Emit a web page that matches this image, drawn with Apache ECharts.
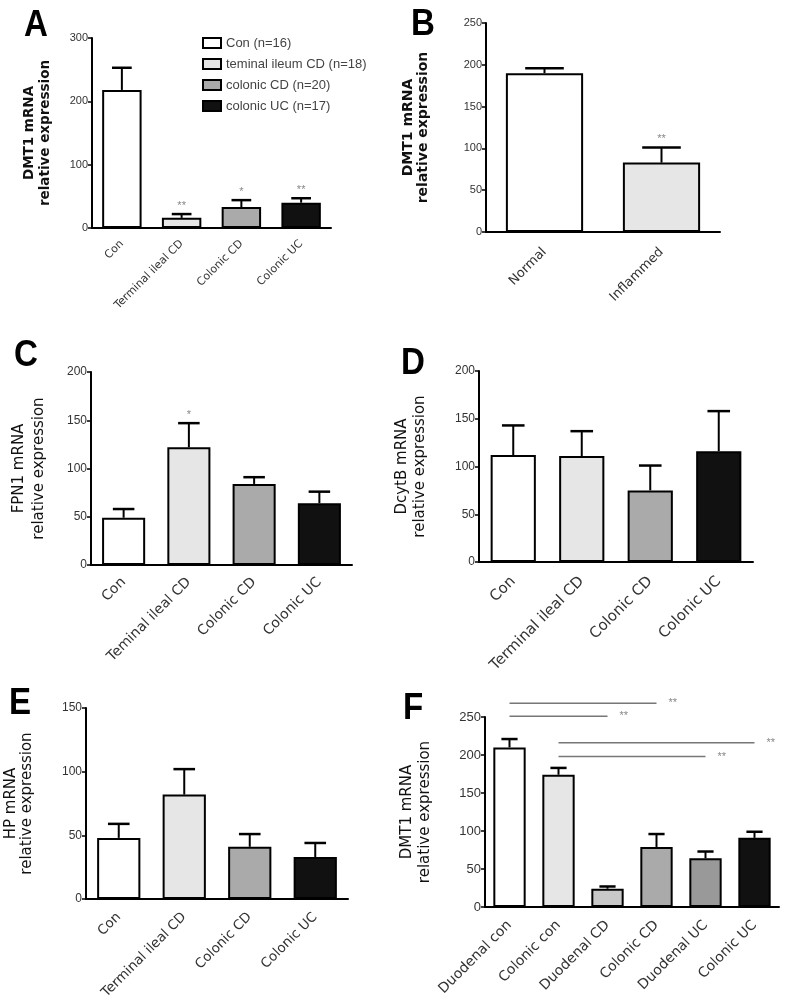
<!DOCTYPE html>
<html>
<head>
<meta charset="utf-8">
<script src="https://cdn.jsdelivr.net/npm/echarts@6/dist/echarts.min.js"></script>
<style>
html,body{margin:0;padding:0;background:#fff;}
#chart{width:787px;height:1000px;}
</style>
</head>
<body>
<div id="chart"></div>
<script>
// ---------- DATA ----------
const catsA = ['Con', 'Terminal ileal CD', 'Colonic CD', 'Colonic UC'];
const meanA = [218, 16, 33, 40];
const errA = [35, 6, 11, 7];
const starsA = ['', '**', '*', '**'];
const legendA = ['Con (n=16)', 'teminal ileum CD (n=18)', 'colonic CD (n=20)', 'colonic UC (n=17)'];

const catsB = ['Normal', 'Inflammed'];
const meanB = [190, 83];
const errB = [6, 18];
const starsB = ['', '**'];

const catsC = ['Con', 'Teminal ileal CD', 'Colonic CD', 'Colonic UC'];
const meanC = [49, 122, 84, 64];
const errC = [9, 25, 7, 12];
const starsC = ['', '*', '', ''];

const catsD = ['Con', 'Terminal ileal CD', 'Colonic CD', 'Colonic UC'];
const meanD = [112, 111, 75, 116];
const errD = [31, 26, 26, 42];
const starsD = ['', '', '', ''];

const catsE = ['Con', 'Terminal ileal CD', 'Colonic CD', 'Colonic UC'];
const meanE = [48, 82, 41, 33];
const errE = [11, 20, 10, 11];
const starsE = ['', '', '', ''];

const catsF = ['Duodenal con', 'Colonic con', 'Duodenal CD', 'Colonic CD', 'Duodenal UC', 'Colonic UC'];
const meanF = [210, 174, 24, 79, 64, 91];
const errF = [11, 9, 3, 17, 9, 8];
const starsF = ['', '', '', '', '', ''];
// significance brackets in F: [from category, to category, height]
const sigFrom = [0, 0, 1, 1];
const sigTo = [3, 2, 5, 4];
const sigY = [268, 251, 216, 198];
const sigLabel = ['**', '**', '**', '**'];

const panelLetters = ['A', 'B', 'C', 'D', 'E', 'F'];

// ---------- STYLE ----------
const col4 = ['#ffffff', '#e6e6e6', '#aaaaaa', '#111111'];
const col2 = ['#ffffff', '#e6e6e6'];
const col6 = ['#ffffff', '#e6e6e6', '#c8c8c8', '#aaaaaa', '#999999', '#111111'];
const FF = "'Liberation Sans', Arial, sans-serif";
const FD = "'DejaVu Sans', sans-serif";

const grids = [], xAxes = [], yAxes = [], series = [];

function errRender(stars) {
  return function (params, api) {
    const x = api.value(0);
    const lo = api.coord([x, api.value(1)]);
    const hi = api.coord([x, api.value(2)]);
    const bw = api.size([1, 0])[0];
    const half = bw * 0.66 * 0.25;
    const ch = [
      {type: 'line', shape: {x1: lo[0], y1: lo[1], x2: hi[0], y2: hi[1]}, style: {stroke: '#000', lineWidth: 2}},
      {type: 'line', shape: {x1: hi[0] - half, y1: hi[1], x2: hi[0] + half, y2: hi[1]}, style: {stroke: '#000', lineWidth: 2.5}}
    ];
    const s = stars[params.dataIndex];
    if (s) {
      ch.push({type: 'text', x: hi[0], y: hi[1] - 3, style: {text: s, fill: '#888', font: '11px ' + FF, textAlign: 'center', textVerticalAlign: 'bottom'}});
    }
    return {type: 'group', children: ch};
  };
}

function addPanel(cfg) {
  const gi = grids.length;
  grids.push({left: cfg.left, top: cfg.top, width: cfg.width, height: cfg.height, containLabel: false, outerBoundsMode: 'none'});
  xAxes.push({
    gridIndex: gi, type: 'category', data: cfg.cats,
    axisLine: {lineStyle: {color: '#000', width: 2}},
    axisTick: {alignWithLabel: true, length: 5, lineStyle: {color: '#000', width: 1.5}},
    axisLabel: {rotate: 45, interval: 0, fontSize: cfg.xSize, color: '#333', fontFamily: FD, margin: cfg.xMargin}
  });
  yAxes.push({
    gridIndex: gi, type: 'value', min: 0, max: cfg.max, interval: cfg.interval,
    splitLine: {show: false},
    axisLine: {show: true, lineStyle: {color: '#000', width: 2}},
    axisTick: {show: true, length: 4, lineStyle: {color: '#000', width: 1.5}},
    axisLabel: {fontSize: cfg.tSize, color: '#333', fontFamily: FF, margin: 4},
    name: cfg.yname, nameLocation: 'middle', nameRotate: 90, nameGap: cfg.nameGap,
    nameTextStyle: {fontSize: cfg.nSize, fontWeight: cfg.nBold ? 'bold' : 'normal', color: '#111', fontFamily: FD, lineHeight: cfg.nLine}
  });
  if (cfg.legendNames) {
    cfg.cats.forEach(function (c, i) {
      series.push({
        type: 'bar', name: cfg.legendNames[i], xAxisIndex: gi, yAxisIndex: gi, stack: 'p' + gi,
        barWidth: '66%',
        data: cfg.means.map(function (v, j) { return j === i ? v : null; }),
        itemStyle: {color: cfg.colors[i], borderColor: '#000', borderWidth: 2},
        emphasis: {disabled: true}, animation: false
      });
    });
  } else {
    series.push({
      type: 'bar', xAxisIndex: gi, yAxisIndex: gi, barWidth: '66%',
      data: cfg.means.map(function (v, i) { return {value: v, itemStyle: {color: cfg.colors[i]}}; }),
      itemStyle: {borderColor: '#000', borderWidth: 2},
      emphasis: {disabled: true}, animation: false
    });
  }
  series.push({
    type: 'custom', xAxisIndex: gi, yAxisIndex: gi, clip: false, z: 3,
    encode: {x: 0, y: [1, 2]},
    data: cfg.means.map(function (v, i) { return [i, v, v + cfg.errs[i]]; }),
    renderItem: errRender(cfg.stars), animation: false, silent: true
  });
  return gi;
}

addPanel({left: 92, top: 38, width: 239, height: 190, cats: catsA, means: meanA, errs: errA, stars: starsA, colors: col4,
  max: 300, interval: 100, yname: 'DMT1 mRNA\nrelative expression', nameGap: 39, nSize: 13.5, nLine: 16, nBold: true,
  tSize: 11, xSize: 11, xMargin: 14, legendNames: legendA});
addPanel({left: 486, top: 23, width: 234, height: 209, cats: catsB, means: meanB, errs: errB, stars: starsB, colors: col2,
  max: 250, interval: 50, yname: 'DMT1 mRNA\nrelative expression', nameGap: 55, nSize: 14, nLine: 15, nBold: true,
  tSize: 11, xSize: 13, xMargin: 18});
addPanel({left: 91, top: 372, width: 261, height: 193, cats: catsC, means: meanC, errs: errC, stars: starsC, colors: col4,
  max: 200, interval: 50, yname: 'FPN1 mRNA\nrelative expression', nameGap: 42, nSize: 15, nLine: 20, nBold: false,
  tSize: 12, xSize: 14, xMargin: 15});
addPanel({left: 479, top: 371, width: 274, height: 191, cats: catsD, means: meanD, errs: errD, stars: starsD, colors: col4,
  max: 200, interval: 50, yname: 'DcytB mRNA\nrelative expression', nameGap: 50, nSize: 15, nLine: 18, nBold: false,
  tSize: 12, xSize: 15, xMargin: 17});
addPanel({left: 86, top: 708, width: 262, height: 191, cats: catsE, means: meanE, errs: errE, stars: starsE, colors: col4,
  max: 150, interval: 50, yname: 'HP mRNA\nrelative expression', nameGap: 51, nSize: 15, nLine: 16, nBold: false,
  tSize: 12, xSize: 13.5, xMargin: 16});
const gF = addPanel({left: 485, top: 717, width: 294, height: 190, cats: catsF, means: meanF, errs: errF, stars: starsF, colors: col6,
  max: 250, interval: 50, yname: 'DMT1 mRNA\nrelative expression', nameGap: 51, nSize: 15, nLine: 18, nBold: false,
  tSize: 13, xSize: 14, xMargin: 16});

// significance lines for F
series.push({
  type: 'custom', xAxisIndex: gF, yAxisIndex: gF, clip: false, silent: true, animation: false,
  encode: {x: [0, 1], y: 2},
  data: sigFrom.map(function (f, i) { return [f, sigTo[i], sigY[i]]; }),
  renderItem: function (params, api) {
    const a = api.coord([api.value(0), api.value(2)]);
    const b = api.coord([api.value(1), api.value(2)]);
    return {type: 'group', children: [
      {type: 'line', shape: {x1: a[0], y1: a[1], x2: b[0], y2: b[1]}, style: {stroke: '#777', lineWidth: 1.5}},
      {type: 'text', x: b[0] + 12, y: a[1], style: {text: sigLabel[params.dataIndex], fill: '#888', font: '11px ' + FF, textVerticalAlign: 'middle'}}
    ]};
  }
});

const letterPos = [[24, 8], [411, 7], [14, 338], [401, 346], [9, 686], [403, 691]];
const graphics = panelLetters.map(function (L, i) {
  return {type: 'text', x: letterPos[i][0], y: letterPos[i][1], scaleX: 0.92,
    style: {text: L, font: 'bold 36px ' + FF, fill: '#000', textAlign: 'left', textVerticalAlign: 'top'}};
});

const chart = echarts.init(document.getElementById('chart'), null, {renderer: 'canvas'});
chart.setOption({
  animation: false,
  backgroundColor: '#fff',
  grid: grids, xAxis: xAxes, yAxis: yAxes, series: series,
  legend: {
    show: true, orient: 'vertical', left: 197, top: 31, itemWidth: 18, itemHeight: 10, itemGap: 7,
    icon: 'rect', selectedMode: false, data: legendA,
    textStyle: {fontSize: 13, color: '#444', fontFamily: FF, lineHeight: 14}
  },
  graphic: graphics
});
</script>
</body>
</html>
